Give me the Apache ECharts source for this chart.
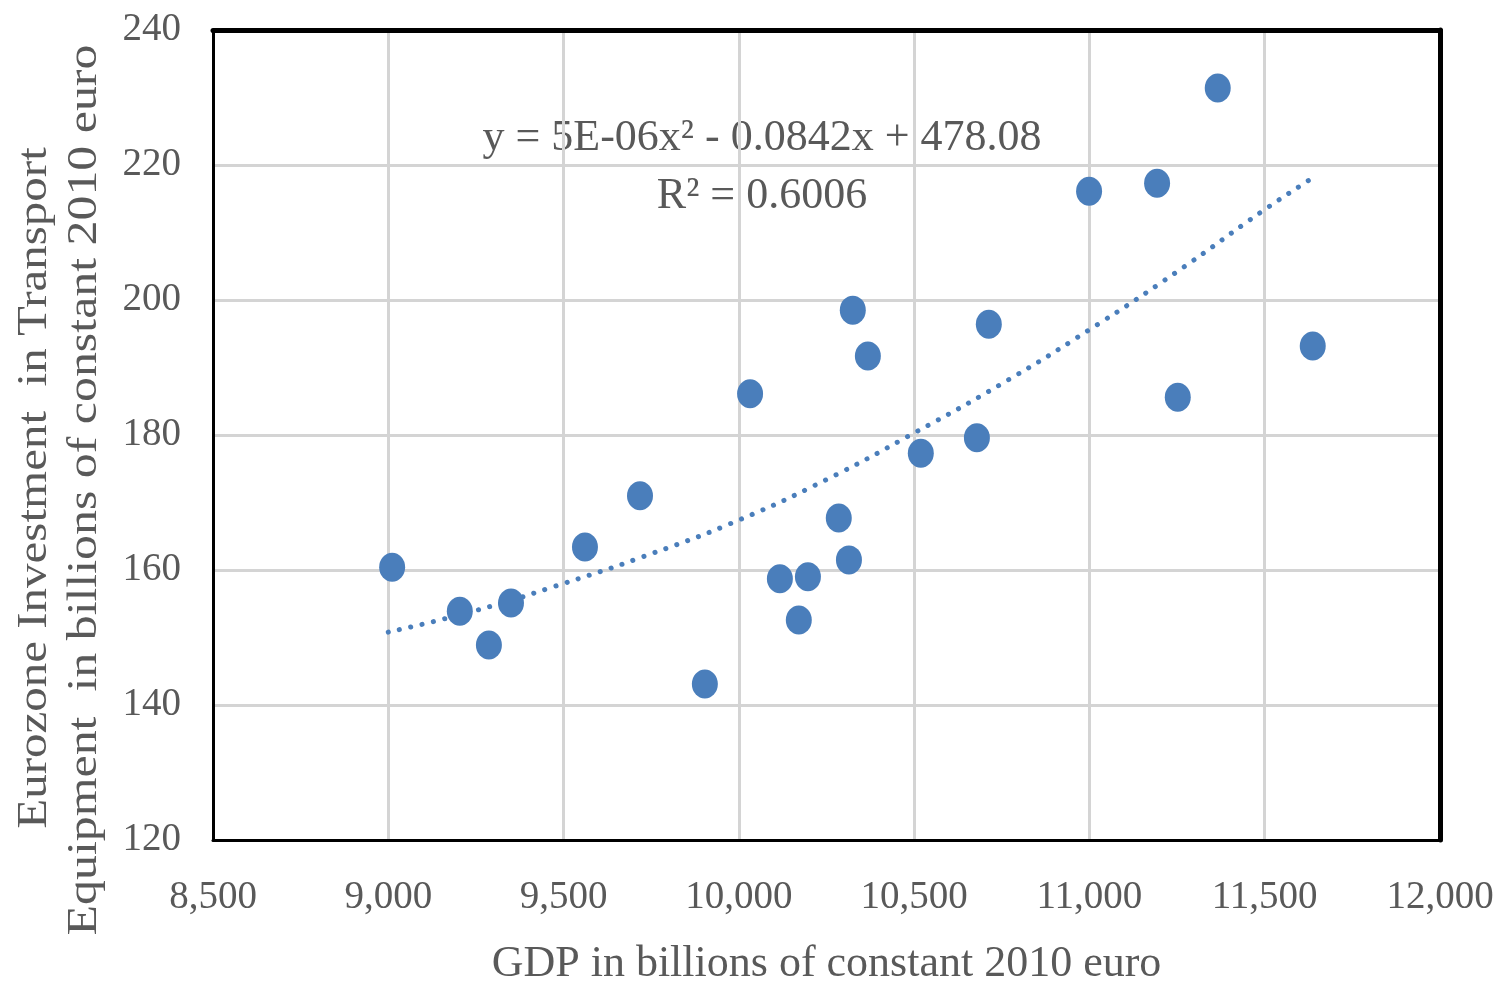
<!DOCTYPE html>
<html>
<head>
<meta charset="utf-8">
<script src="https://cdn.jsdelivr.net/npm/echarts@6/dist/echarts.min.js"></script>
<style>
html,body{margin:0;padding:0;background:#fff;}
#chart{width:1497px;height:985px;}
</style>
</head>
<body>
<div id="chart"></div>
<script>
// GDP (billions of constant 2010 euro)
const gdp = [9011, 9204, 9287, 9350, 9561, 9718, 9903, 10032, 10117, 10197, 10171, 10285, 10314, 10325, 10368, 10519, 10679, 10713, 10999, 11193, 11252, 11366, 11637];
// Investment in transport equipment (billions of constant 2010 euro)
const invest = [160.4, 153.9, 148.9, 155.1, 163.4, 171.0, 143.1, 186.1, 158.7, 159.0, 152.6, 167.7, 161.5, 198.5, 191.7, 177.3, 179.6, 196.4, 216.1, 217.3, 185.6, 231.4, 193.2];
// Polynomial trend line
const trendX = [9000, 9250, 9500, 9750, 10000, 10250, 10500, 10750, 11000, 11250, 11500, 11640];
const trendY = [150.8, 154.0, 158.0, 162.4, 167.4, 173.4, 180.3, 187.6, 195.6, 204.2, 213.4, 218.2];
const equationText = 'y = 5E-06x² - 0.0842x + 478.08';
const r2Text = 'R² = 0.6006';
const xTitle = 'GDP in billions of constant 2010 euro';
const yTitleLines = ['Eurozone Investment  in Transport', 'Equipment  in billions of constant 2010 euro'];

const font = '"Liberation Serif", "DejaVu Serif", serif';
const grey = '#595959';
const blue = '#4a7ebb';

const chart = echarts.init(document.getElementById('chart'), null, {renderer: 'canvas'});

const pts = gdp.map((x, i) => [x, invest[i]]);
const trend = trendX.map((x, i) => [x, trendY[i]]);

chart.setOption({
  animation: false,
  backgroundColor: '#fff',
  grid: {left: 213, top: 30, right: 57, bottom: 145, show: false, containLabel: false, outerBoundsMode: 'none'},
  xAxis: [{
    type: 'value', min: 8500, max: 12000, interval: 500,
    axisLine: {show: true, onZero: false, lineStyle: {color: '#000', width: 3}},
    axisTick: {show: false},
    axisLabel: {color: grey, fontFamily: font, fontSize: 39, margin: 38,
      formatter: v => v.toLocaleString('en-US')},
    splitLine: {show: true, lineStyle: {color: '#d4d4d4', width: 3}},
    name: xTitle, nameLocation: 'middle', nameGap: 102,
    nameTextStyle: {color: grey, fontFamily: font, fontSize: 44}
  }, {
    type: 'value', position: 'top', min: 8500, max: 12000, interval: 500,
    axisLine: {show: true, onZero: false, lineStyle: {color: '#000', width: 5}},
    axisTick: {show: false}, axisLabel: {show: false}, splitLine: {show: false}
  }],
  yAxis: [{
    type: 'value', min: 120, max: 240, interval: 20,
    axisLine: {show: true, onZero: false, lineStyle: {color: '#000', width: 3}},
    axisTick: {show: false},
    axisLabel: {color: grey, fontFamily: font, fontSize: 39, margin: 32},
    splitLine: {show: true, lineStyle: {color: '#d4d4d4', width: 3}}
  }, {
    type: 'value', position: 'right', min: 120, max: 240, interval: 20,
    axisLine: {show: true, onZero: false, lineStyle: {color: '#000', width: 5}},
    axisTick: {show: false}, axisLabel: {show: false}, splitLine: {show: false}
  }],
  series: [{
    type: 'line', data: trend, smooth: true, showSymbol: false, symbol: 'none',
    lineStyle: {color: blue, width: 5, type: [0.1, 11.5], cap: 'round'},
    z: 2
  }, {
    type: 'scatter', data: pts, symbol: 'circle', symbolSize: [26, 29],
    itemStyle: {color: blue, opacity: 1},
    z: 3
  }],
  graphic: [
    {type: 'text', x: 762, y: 138, style: {text: equationText, fill: grey, font: '44px ' + font, textAlign: 'center', textVerticalAlign: 'middle'}},
    {type: 'text', x: 762, y: 196, style: {text: r2Text, fill: grey, font: '44px ' + font, textAlign: 'center', textVerticalAlign: 'middle'}},
    {type: 'text', x: 35, y: 488, rotation: Math.PI / 2, scaleX: 1.14, style: {text: yTitleLines[0], fill: grey, font: '43px ' + font, textAlign: 'center', textVerticalAlign: 'middle'}},
    {type: 'text', x: 85, y: 490, rotation: Math.PI / 2, scaleX: 1.16, style: {text: yTitleLines[1], fill: grey, font: '43px ' + font, textAlign: 'center', textVerticalAlign: 'middle'}}
  ]
});
</script>
</body>
</html>
